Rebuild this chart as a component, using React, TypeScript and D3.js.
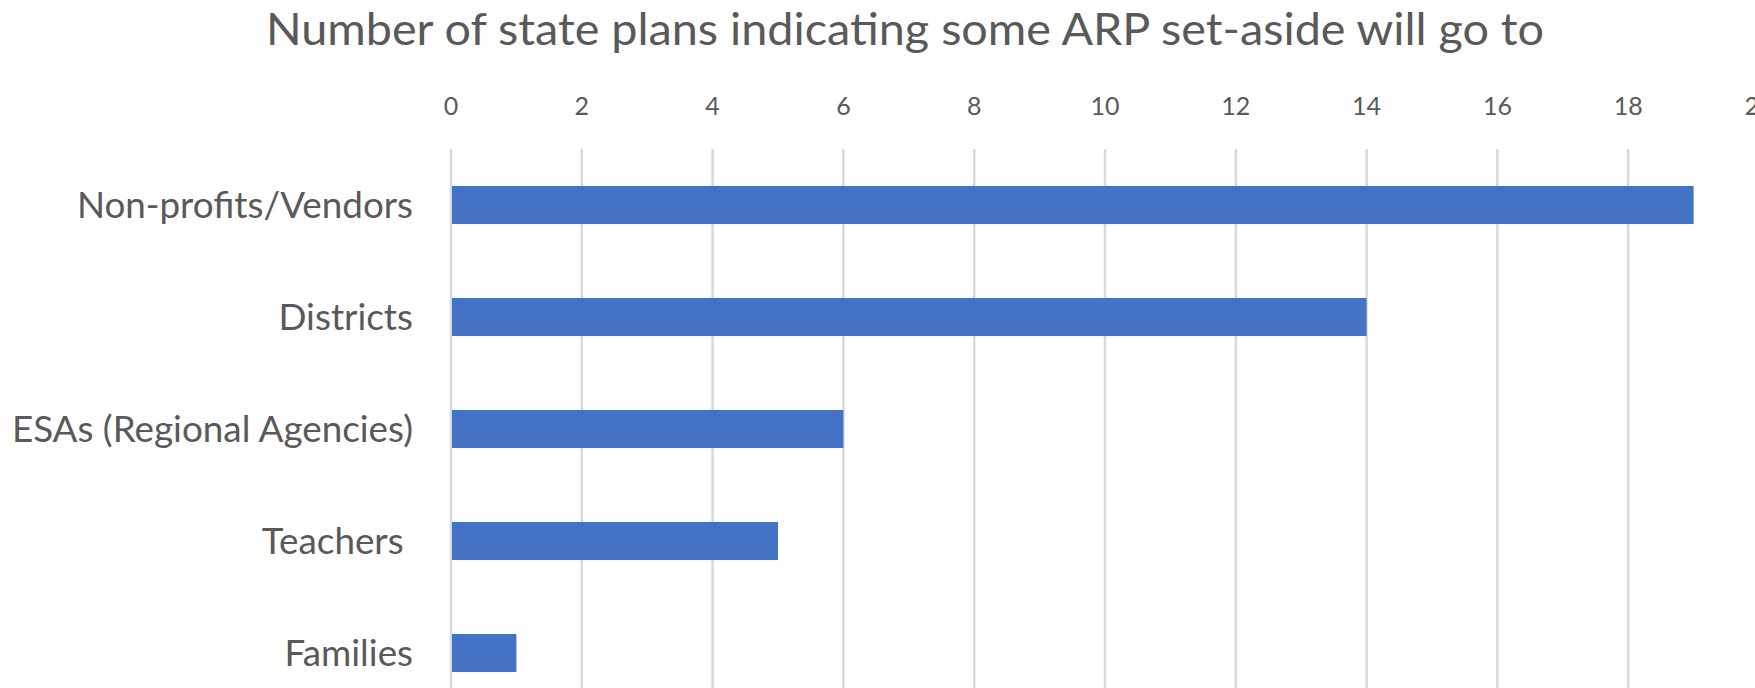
import * as React from "react";
import * as d3 from "d3";

const title = "Number of state plans indicating some ARP set-aside will go to";
const categories = ["Non-profits/Vendors", "Districts", "ESAs (Regional Agencies)", "Teachers ", "Families"];
const counts = [19, 14, 6, 5, 1];
const ticks = [0, 2, 4, 6, 8, 10, 12, 14, 16, 18, 20];

const W = 1755;
const H = 688;
const FONT = "Lato, 'Open Sans', sans-serif";
const TEXT = "#595959";

const App: React.FC = () => {
    const x = d3.scaleLinear().domain([0, 20]).range([451, 1759]);
    const y = d3.scaleBand<string>()
        .domain(categories)
        .range([149, 149 + 112 * categories.length])
        .paddingInner(0.66)
        .paddingOuter(0.33);

    return (
        <svg width={W} height={H} style={{ position: "absolute", left: 0, top: 0, background: "#fff" }}>
            <text
                x={905}
                y={45}
                textAnchor="middle"
                fontFamily={FONT}
                fontSize={44}
                textLength={1278}
                lengthAdjust="spacingAndGlyphs"
                fill={TEXT}
            >
                {title}
            </text>

            {ticks.map(t => (
                <g key={t}>
                    <line x1={x(t)} x2={x(t)} y1={149} y2={H} stroke="#d9d9d9" strokeWidth={2.5} />
                    <text x={x(t)} y={115} textAnchor="middle" fontFamily={FONT} fontSize={25} fill={TEXT}>
                        {t}
                    </text>
                </g>
            ))}

            {categories.map((c, i) => (
                <g key={c}>
                    <rect
                        x={x(0) + 1}
                        y={y(c)!}
                        width={x(counts[i]) - x(0) - 1}
                        height={y.bandwidth()}
                        fill="#4472C4"
                    />
                    <text
                        x={413}
                        y={y(c)! + y.bandwidth() / 2}
                        dy="0.35em"
                        textAnchor="end"
                        fontFamily={FONT}
                        fontSize={36.8}
                        fill={TEXT}
                        style={{ whiteSpace: "pre" }}
                    >
                        {c}
                    </text>
                </g>
            ))}
        </svg>
    );
};

export default App;
